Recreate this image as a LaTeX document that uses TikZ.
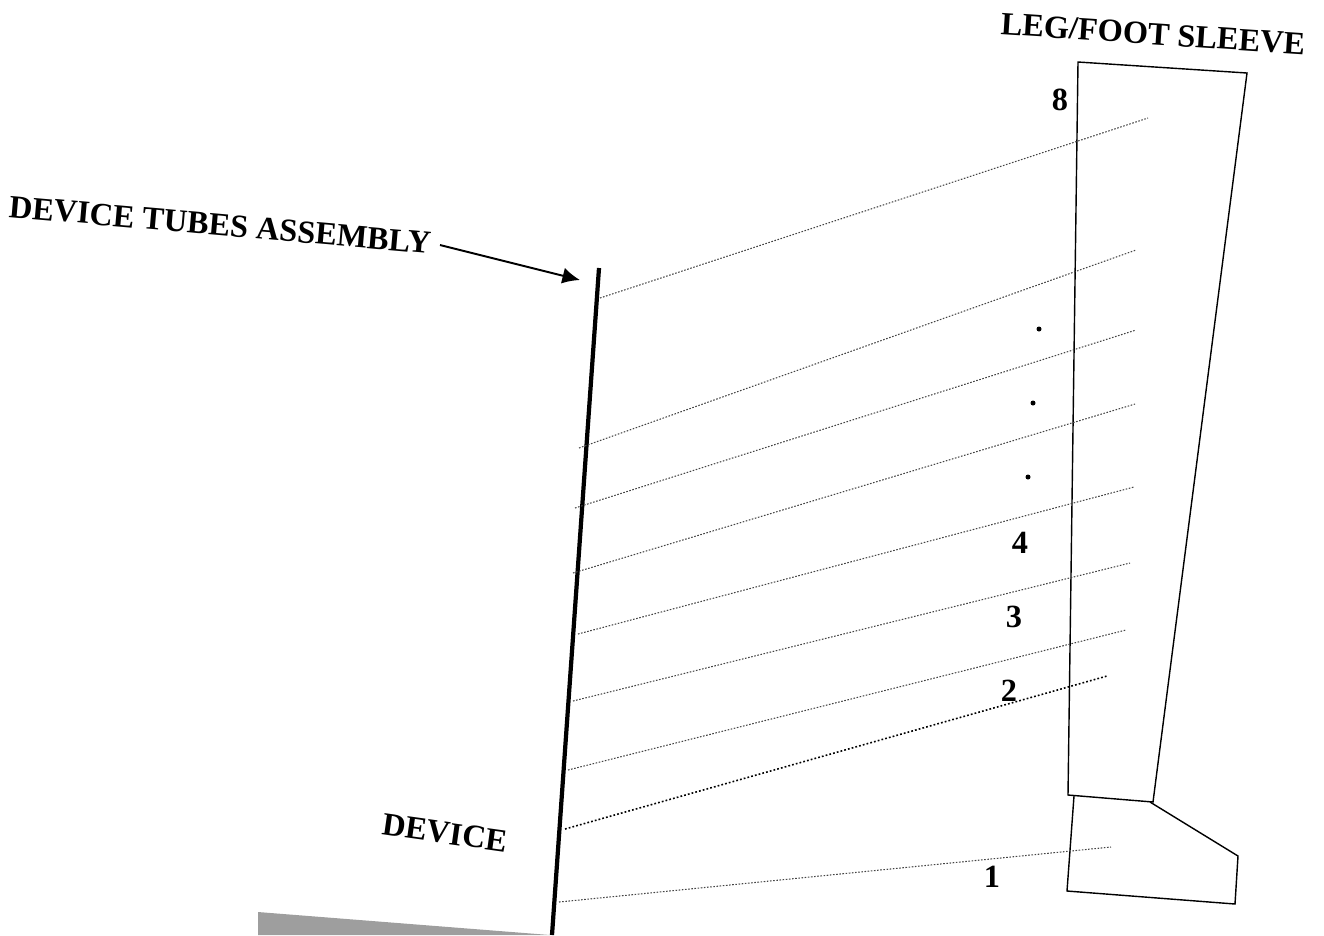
\documentclass[tikz,border=0pt]{standalone}
\usepackage{fontspec}
\setmainfont{Liberation Serif}
\usepackage{xcolor}
\usetikzlibrary{arrows.meta,positioning,calc}
\definecolor{pstrip}{HTML}{9E9E9E}
\definecolor{ptube}{HTML}{444444}
\tikzset{
  caption/.style={font=\bfseries\fontsize{9.2}{11}\selectfont,inner sep=0pt,text=black},
  tubenum/.style={font=\bfseries\fontsize{9.2}{11}\selectfont,inner sep=0pt,text=black},
  outline/.style={draw=black,line width=0.4pt,line join=miter},
  tube/.style={ptube,line width=0.3pt,dash pattern=on 0.45pt off 0.45pt},
  tubeheavy/.style={black,line width=0.45pt,dash pattern=on 0.5pt off 0.6pt},
}
\begin{document}
\begin{tikzpicture}[x=0.01cm,y=-0.01cm]
  \useasboundingbox (0,0) rectangle (1324,935);

  % Gray strip at the foot of the device
  \fill[pstrip] (258,912) -- (550,935) -- (258,935) -- cycle;

  % Captions
  \node[caption,rotate=-5] (tubescap) at (220,225) {DEVICE TUBES ASSEMBLY};
  \node[caption,rotate=-3.8] (sleevecap) at (1153,34) {LEG/FOOT SLEEVE};
  \node[caption,rotate=-8] (devicecap) at (445,833) {DEVICE};

  % Tubes assembly bar
  \coordinate (bartop) at (599,268);
  \coordinate (barend) at (552,935);
  \draw[black,line width=1.2pt] (bartop) -- (barend);

  % Arrow to the bar
  \coordinate (arrowfrom) at (440,245);
  \coordinate (arrowto) at (580,280);
  \draw[-{Latex[length=5pt,width=4.6pt]},black,line width=0.55pt] (arrowfrom) -- (arrowto);

  % Sleeve and foot
  \draw[outline] (1078,62) -- (1247,73) -- (1153,802) -- (1068,795) -- cycle;
  \draw[outline] (1074,796) -- (1067,891) -- (1235,904) -- (1238,856) -- (1150,802);

  % Tube lines: device end / sleeve end
  \foreach \xa/\ya/\xb/\yb in {600/298/1148/118,579/448/1136/250,575/508/1136/330,
      573/573/1135/404,578/634/1134/487,573/701/1130/563,568/770/1126/630,559/902/1111/847}
    \draw[tube] (\xa,\ya) -- (\xb,\yb);
  \draw[tubeheavy] (565,829) -- (1107,676);

  % Tube numbers
  \node[tubenum] (num8) at (1060,100) {8};
  \node[tubenum] (num4) at (1020,543) {4};
  \node[tubenum] (num3) at (1014,617) {3};
  \node[tubenum] (num2) at (1009,691) {2};
  \node[tubenum] (num1) at (992,877) {1};

  % Dots for the tubes left out
  \foreach \x/\y in {1039/329,1033/403,1028/477}
    \fill[black] (\x,\y) circle (2.5);
\end{tikzpicture}
\end{document}
